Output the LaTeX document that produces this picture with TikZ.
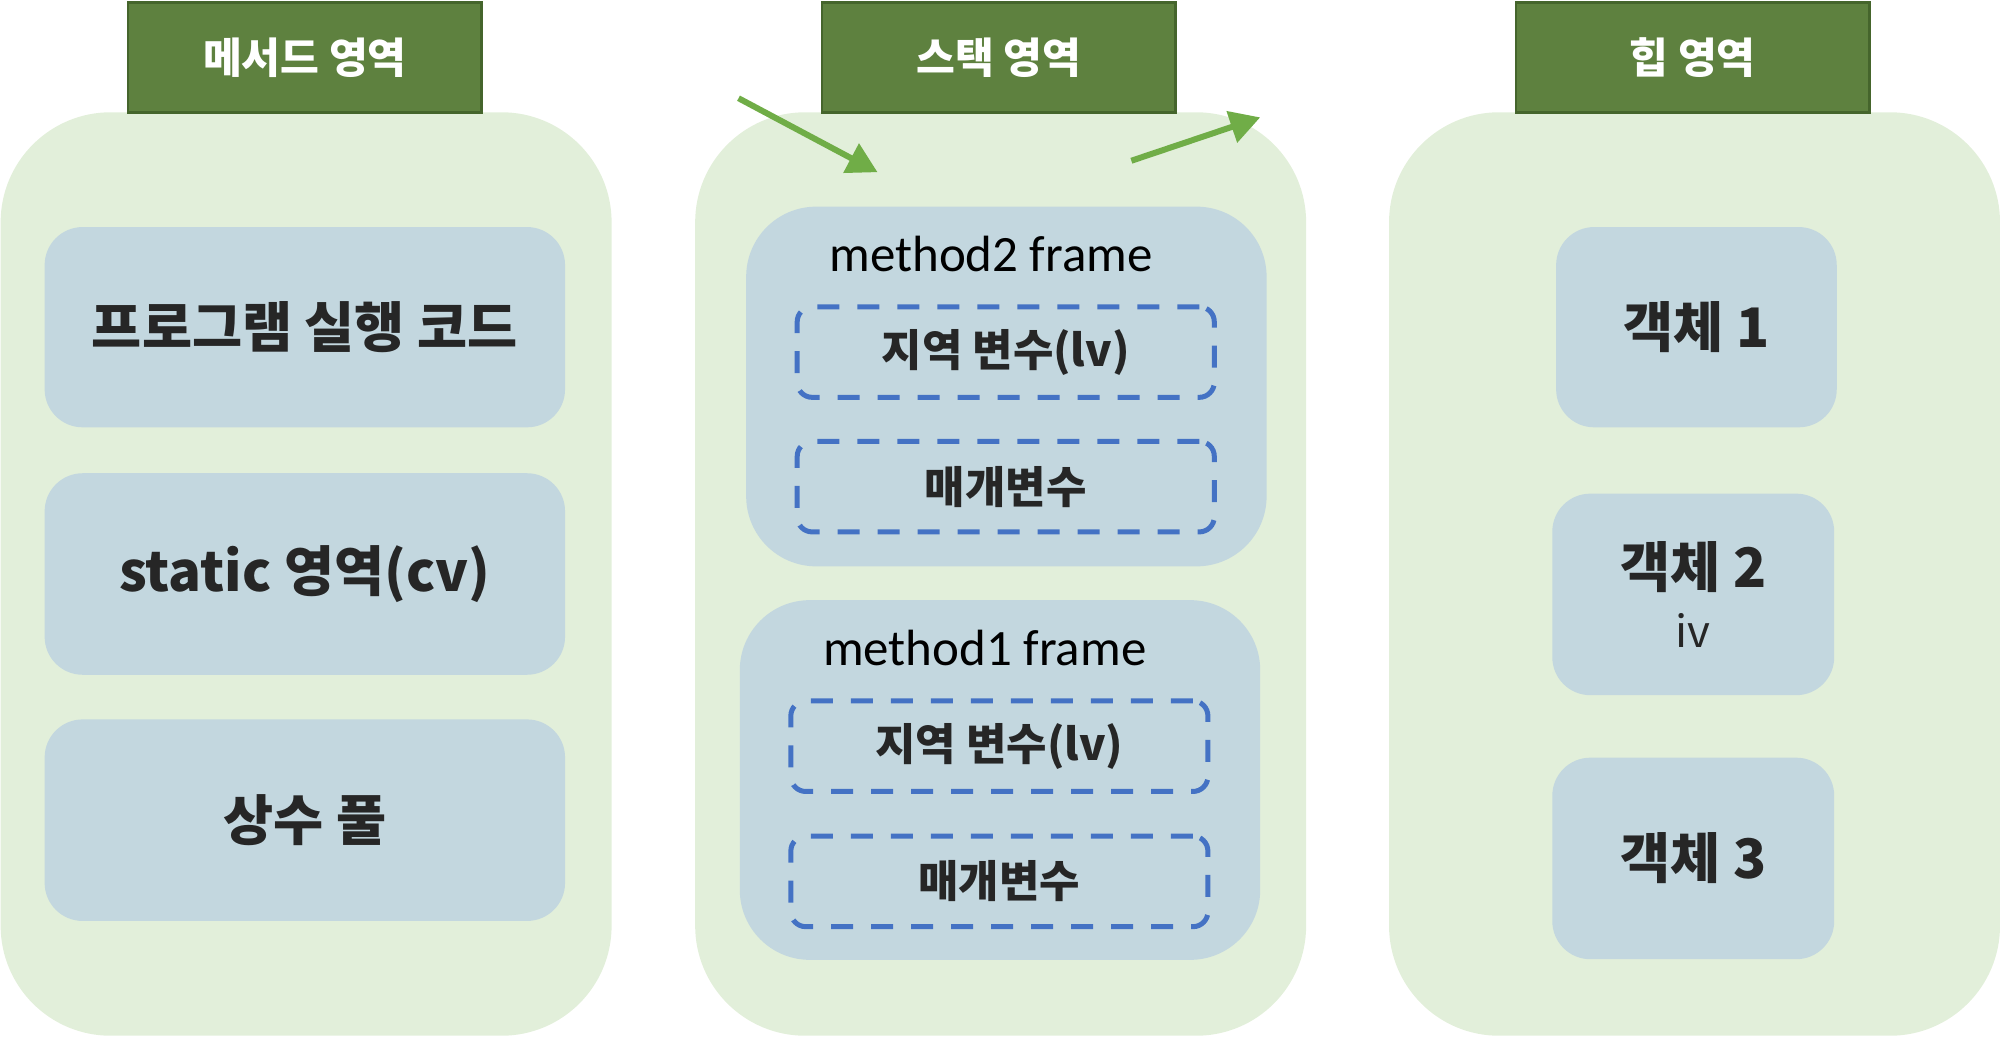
\documentclass[tikz,border=0pt]{standalone}
\usepackage{fontspec}
\setmainfont{Noto Sans CJK KR}
\newfontfamily\framefont{Carlito}
\usetikzlibrary{arrows.meta,positioning}
\definecolor{hdrgreen}{HTML}{5E813F}
\definecolor{hdredge}{HTML}{45652C}
\definecolor{areagreen}{HTML}{E2EFDA}
\definecolor{boxblue}{HTML}{C3D7DF}
\definecolor{dashblue}{HTML}{4472C4}
\definecolor{arrowgreen}{HTML}{70AD47}
\definecolor{txt}{HTML}{262626}

\begin{document}
\begin{tikzpicture}[x=0.12755mm,y=-0.12755mm,
    boxsize/.style 2 args={minimum width=#1*0.12755mm, minimum height=#2*0.12755mm}]
		\tikzstyle{every node}=[inner sep=0pt, outer sep=0pt]
		\tikzstyle{area}=[rectangle, fill=areagreen, rounded corners=11mm, boxsize={479}{724}]
		\tikzstyle{header}=[rectangle, fill=hdrgreen, draw=hdredge, line width=0.25mm, boxsize={277}{86}, text=white, font=\fontsize{12}{13}\selectfont\bfseries]
		\tikzstyle{cell}=[rectangle, fill=boxblue, rounded corners=3.8mm, text=txt, font=\fontsize{15.5}{18}\selectfont\bfseries]
		\tikzstyle{frame}=[rectangle, fill=boxblue, rounded corners=7mm, boxsize={408}{282}]
		\tikzstyle{slot}=[rectangle, draw=dashblue, line width=0.5mm, dash pattern=on 2.2mm off 1.8mm, rounded corners=1.5mm, boxsize={327}{71}, text=txt, font=\fontsize{12.5}{14}\selectfont\bfseries]
		\tikzstyle{title}=[text=black, font=\framefont\fontsize{14.5}{16}\selectfont]
		\tikzstyle{push}=[draw=arrowgreen, line width=0.6mm, -{Triangle[length=3mm, width=3.2mm]}]
		\useasboundingbox (0,0) rectangle (1568,813);

		% method area
		\node[area] (MethodArea) at (240,450) {};
		\node[header] (MethodHdr) at (239,45) {메서드 영역};
		\node[cell, boxsize={408}{157}] (Code) at (239,256.5) {프로그램 실행 코드};
		\node[cell, boxsize={408}{158}] (Static) at (239,450) {static 영역(cv)};
		\node[cell, boxsize={408}{158}] (Pool) at (239,643) {상수 풀};

		% stack area
		\node[area] (StackArea) at (784.5,450) {};
		\node[header] (StackHdr) at (783,45) {스택 영역};
		\node[frame] (Frame2) at (789,303) {};
		\node[title] (Frame2Title) at (777,199) {method2 frame};
		\node[slot] (Local2) at (788.5,276) {지역 변수(lv)};
		\node[slot] (Param2) at (788.5,381.5) {매개변수};
		\node[frame] (Frame1) at (784,611.5) {};
		\node[title] (Frame1Title) at (772,508) {method1 frame};
		\node[slot] (Local1) at (783.5,585) {지역 변수(lv)};
		\node[slot] (Param1) at (783.5,691) {매개변수};
		\coordinate (PushFrom) at (579,77);
		\coordinate (PushTo) at (688,135);
		\coordinate (PopFrom) at (887,126);
		\coordinate (PopTo) at (988,92);
		\draw[push] (PushFrom) -- (PushTo);
		\draw[push] (PopFrom) -- (PopTo);

		% heap area
		\node[area] (HeapArea) at (1328.5,450) {};
		\node[header] (HeapHdr) at (1327,45) {힙 영역};
		\node[cell, boxsize={220}{157}] (Obj1) at (1330,256.5) {객체 1};
		\node[cell, boxsize={221}{158}, align=center] (Obj2) at (1327.5,466) {객체 2\\[-1pt]{\fontsize{12.5}{14}\selectfont\mdseries iv}};
		\node[cell, boxsize={221}{158}] (Obj3) at (1327.5,673) {객체 3};
\end{tikzpicture}
\end{document}
